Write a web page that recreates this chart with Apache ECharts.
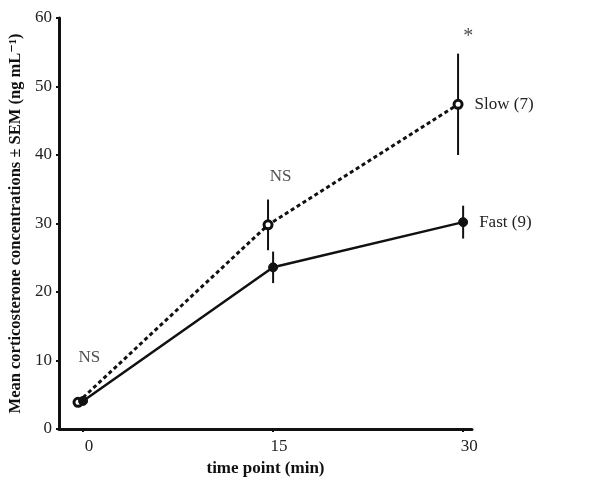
<!DOCTYPE html>
<html>
<head>
<meta charset="utf-8">
<script src="https://cdn.jsdelivr.net/npm/echarts@6/dist/echarts.min.js"></script>
<style>html,body{margin:0;padding:0;background:#fff}#c{width:600px;height:488px}</style>
</head>
<body>
<div id="c"></div>
<script>
const tickValues = [0, 15, 30];
const tickLabels = ['0', '15', '30'];
const slowX = [-0.4, 14.6, 29.6];
const slowY = [3.9, 29.8, 47.4];
const slowErr = [0.4, 3.7, 7.4];
const fastX = [0, 15, 30];
const fastY = [4.1, 23.6, 30.2];
const fastErr = [0.3, 2.3, 2.4];
const annotX = [0.5, 15.6, 30.4];
const annotY = [10.5, 36.8, 57.2];
const annotText = ['NS', 'NS', '*'];
const slowName = 'Slow (7)';
const fastName = 'Fast (9)';

const font = "'Liberation Serif', 'DejaVu Serif', serif";
const chart = echarts.init(document.getElementById('c'), null, {renderer: 'canvas'});

function pairs(xs, ys) { return xs.map((x, i) => [x, ys[i]]); }
function errData(xs, ys, es) { return xs.map((x, i) => [x, ys[i], es[i]]); }

function errRender(params, api) {
  const x = api.value(0), y = api.value(1), e = api.value(2);
  const p1 = api.coord([x, y - e]);
  const p2 = api.coord([x, y + e]);
  return {type: 'line', shape: {x1: p1[0], y1: p1[1], x2: p2[0], y2: p2[1]},
          style: {stroke: '#111', lineWidth: 2}};
}

const lastIdx = slowX.length - 1;
chart.setOption({
  animation: false,
  grid: {left: 59, top: 18, right: 128, bottom: 59, containLabel: false, outerBoundsMode: 'none'},
  xAxis: {
    type: 'value', min: -1.9, max: 30.7,
    name: 'time point (min)', nameLocation: 'middle', nameGap: 30,
    nameTextStyle: {fontFamily: font, fontWeight: 'bold', fontSize: 17, color: '#111'},
    axisLine: {onZero: false, lineStyle: {color: '#111', width: 3}},
    axisTick: {show: true, length: 3, customValues: tickValues, lineStyle: {color: '#111', width: 2}},
    axisLabel: {customValues: tickValues, margin: 9, padding: [0, 0, 0, 12], fontFamily: font, fontSize: 17, color: '#222',
      formatter: v => tickLabels[tickValues.indexOf(v)]},
    splitLine: {show: false}
  },
  yAxis: {
    type: 'value', min: 0, max: 60, interval: 10,
    name: 'Mean corticosterone concentrations \u00b1 SEM (ng mL\u207b\u00b9)',
    nameLocation: 'middle', nameGap: 33,
    nameTextStyle: {fontFamily: font, fontWeight: 'bold', fontSize: 16.5, color: '#111'},
    axisLine: {show: true, onZero: false, lineStyle: {color: '#111', width: 3}},
    axisTick: {show: true, length: 3, lineStyle: {color: '#111', width: 2}},
    axisLabel: {margin: 7, fontFamily: font, fontSize: 17, color: '#222'},
    splitLine: {show: false}
  },
  series: [
    {type: 'custom', renderItem: errRender, data: errData(slowX, slowY, slowErr), z: 1},
    {type: 'custom', renderItem: errRender, data: errData(fastX, fastY, fastErr), z: 1},
    {
      type: 'line', name: slowName, data: pairs(slowX, slowY).map((d, i) => i === lastIdx ?
        {value: d, label: {show: true, formatter: slowName, position: 'right', distance: 11,
          fontFamily: font, fontSize: 17, color: '#222'}} : d),
      lineStyle: {color: '#111', width: 3, type: [4, 3]},
      symbol: 'circle', symbolSize: 8,
      itemStyle: {color: '#fff', borderColor: '#111', borderWidth: 3}, z: 3
    },
    {
      type: 'line', name: fastName, data: pairs(fastX, fastY).map((d, i) => i === lastIdx ?
        {value: d, label: {show: true, formatter: fastName, position: 'right', distance: 11,
          fontFamily: font, fontSize: 17, color: '#222'}} : d),
      lineStyle: {color: '#111', width: 2.5},
      symbol: 'circle', symbolSize: 9,
      itemStyle: {color: '#111', borderColor: '#111', borderWidth: 1}, z: 4
    },
    {
      type: 'scatter', symbolSize: 0, silent: true,
      data: annotX.map((x, i) => ({value: [x, annotY[i]], label: {show: true, position: 'inside',
        formatter: annotText[i], fontFamily: font, fontSize: annotText[i] === '*' ? 20 : 17, color: '#222'}}))
    }
  ]
});
</script>
</body>
</html>
